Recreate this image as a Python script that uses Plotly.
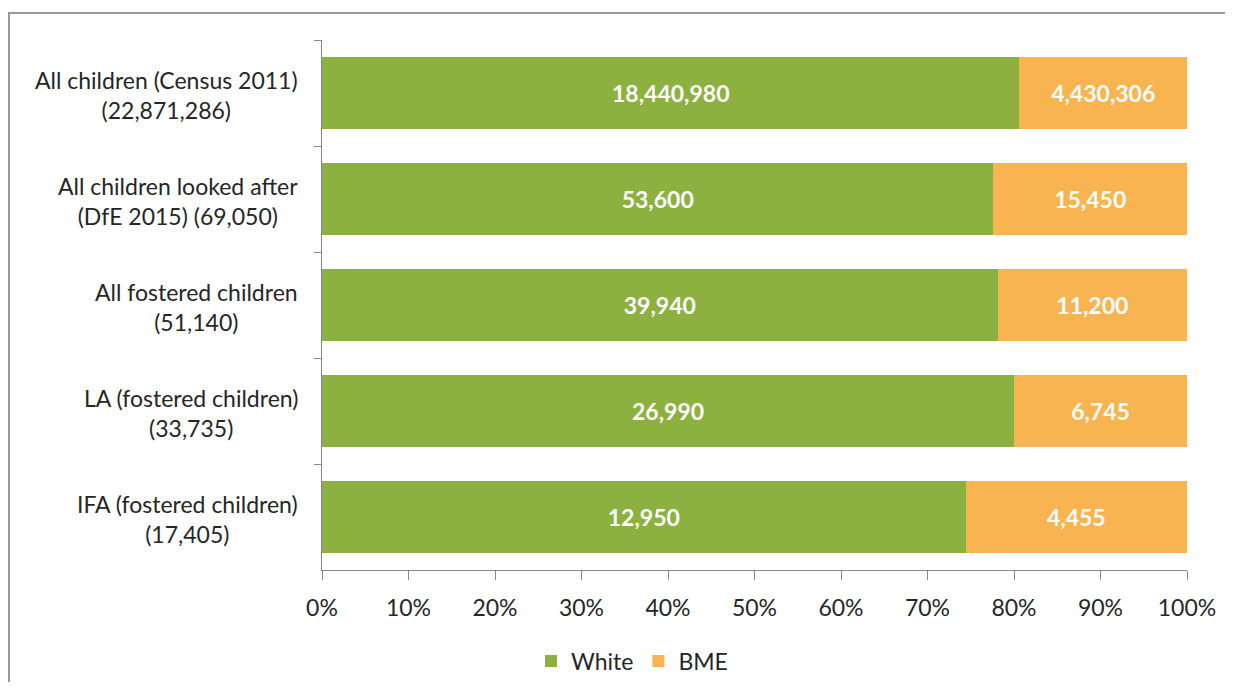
import plotly.graph_objects as go

categories = [
    "All children (Census 2011)<br>(22,871,286)",
    "All children looked after<br>(DfE 2015) (69,050)",
    "All fostered children<br>(51,140)",
    "LA (fostered children)<br>(33,735)",
    "IFA (fostered children)<br>(17,405)",
]
white = [18440980, 53600, 39940, 26990, 12950]
bme = [4430306, 15450, 11200, 6745, 4455]
x_ticks = [0, 0.1, 0.2, 0.3, 0.4, 0.5, 0.6, 0.7, 0.8, 0.9, 1.0]

totals = [w + b for w, b in zip(white, bme)]
white_pct = [w / t for w, t in zip(white, totals)]
bme_pct = [b / t for b, t in zip(bme, totals)]

FONT = "Lato"
GREEN = "#8CB141"
ORANGE = "#F8B450"
TXT = "#262626"
FS = 23

fig = go.Figure()
fig.add_trace(go.Bar(
    y=categories, x=white_pct, orientation="h", name="White",
    marker=dict(color=GREEN, line=dict(width=0)),
    text=[f"{v:,}" for v in white], textposition="inside",
    insidetextanchor="middle",
    textfont=dict(color="white", size=FS, family=FONT, weight="bold"),
))
fig.add_trace(go.Bar(
    y=categories, x=bme_pct, orientation="h", name="BME",
    marker=dict(color=ORANGE, line=dict(width=0)),
    text=[f"{v:,}" for v in bme], textposition="inside",
    insidetextanchor="middle",
    textfont=dict(color="white", size=FS, family=FONT, weight="bold"),
))

# page body has an 8px offset
OFF = 8
W, H = 1233 - 2 * OFF, 690 - 2 * OFF
L, T = 322 - OFF, 40 - OFF
pw, ph = 865, 530
R = W - L - pw
B = H - T - ph

def px_x(px):
    return (px - OFF - L) / pw

def px_y(py):
    return (T + ph - (py - OFF)) / ph

annotations = []
for c in categories:
    annotations.append(dict(
        x=px_x(300), xref="paper", y=c, yref="y", yshift=-2,
        text=c, showarrow=False, xanchor="right", align="center",
        font=dict(size=FS, family=FONT, color=TXT),
    ))

fig.update_layout(
    width=W, height=H,
    margin=dict(l=L, r=R, t=T, b=B, autoexpand=False),
    barmode="stack", bargap=0.33,
    plot_bgcolor="white", paper_bgcolor="white",
    font=dict(family=FONT, size=FS, color=TXT),
    xaxis=dict(
        range=[0, 1], tickvals=x_ticks, tickformat=".0%",
        showgrid=False, zeroline=False, automargin=False,
        showline=True, linecolor="#888888", linewidth=1,
        ticks="outside", ticklen=9, tickcolor="#888888",
        ticklabelstandoff=8,
        tickfont=dict(size=FS, family=FONT, color=TXT),
    ),
    yaxis=dict(
        type="category", categoryorder="array", categoryarray=categories,
        autorange="reversed", showticklabels=False, automargin=False,
        showgrid=False, zeroline=False,
        showline=True, linecolor="#888888", linewidth=1,
        ticks="outside", ticklen=7, tickcolor="#888888",
        tickson="boundaries",
    ),
    legend=dict(
        orientation="h", x=px_x(632), xanchor="center",
        y=px_y(661), yanchor="middle",
        font=dict(size=FS, family=FONT, color=TXT),
        traceorder="normal",
    ),
    annotations=annotations,
    shapes=[dict(
        type="rect", xref="paper", yref="paper",
        x0=px_x(9), x1=px_x(1260),
        y0=px_y(720), y1=px_y(13),
        line=dict(color="#999999", width=2), fillcolor="rgba(0,0,0,0)",
        layer="below",
    )],
)

fig.write_html("out.html")
